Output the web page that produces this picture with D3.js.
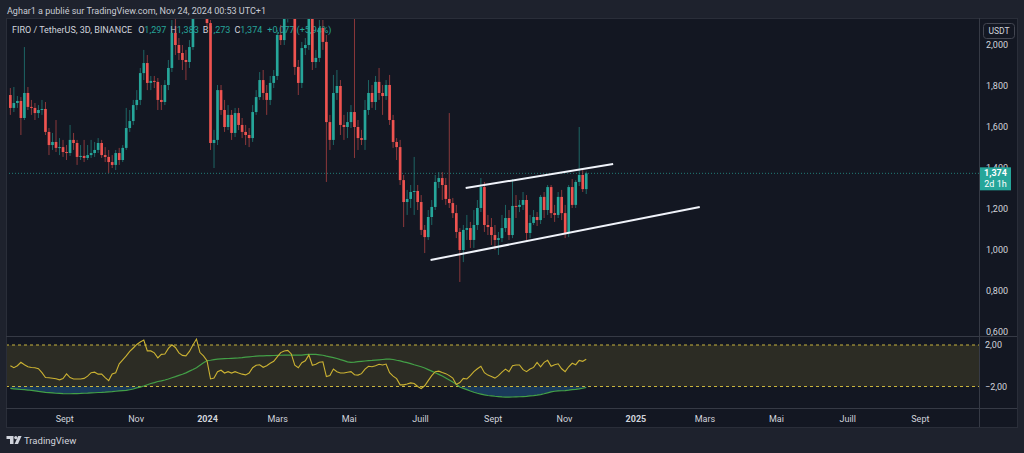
<!DOCTYPE html>
<html>
<head>
<meta charset="utf-8">
<script src="https://cdn.jsdelivr.net/npm/d3@7"></script>
<style>
  html, body { margin: 0; padding: 0; background: #1e222d; overflow: hidden; }
  svg { display: block; font-family: Roboto, "Noto Sans", sans-serif; }
</style>
</head>
<body>
<div id="chart"></div>
<script>
// FIRO / USDT, 3D candles, first bar date, then one bar every 3 days
const startDate = "2023-07-17";

// [open, high, low, close]
const candles = [
  [1.756,1.790,1.659,1.693],[1.693,1.795,1.673,1.717],[1.717,1.751,1.693,1.727],[1.727,1.746,1.561,1.644],[1.644,1.990,1.634,1.766],
  [1.766,1.795,1.683,1.698],[1.698,1.732,1.659,1.693],[1.693,1.717,1.634,1.668],[1.668,1.707,1.644,1.683],[1.683,1.732,1.659,1.688],
  [1.688,1.722,1.561,1.576],[1.576,1.595,1.463,1.512],[1.512,1.571,1.488,1.527],[1.527,1.634,1.478,1.498],[1.498,1.546,1.463,1.502],
  [1.502,1.537,1.454,1.478],[1.478,1.512,1.439,1.473],[1.473,1.610,1.459,1.537],[1.537,1.571,1.488,1.522],[1.522,1.537,1.415,1.454],
  [1.454,1.512,1.439,1.459],[1.459,1.537,1.429,1.449],[1.449,1.512,1.439,1.463],[1.463,1.537,1.449,1.473],[1.473,1.527,1.454,1.488],
  [1.488,1.546,1.473,1.522],[1.522,1.537,1.449,1.463],[1.463,1.502,1.429,1.454],[1.454,1.488,1.376,1.429],[1.429,1.463,1.400,1.415],
  [1.415,1.488,1.390,1.473],[1.473,1.498,1.415,1.439],[1.439,1.512,1.429,1.498],[1.498,1.693,1.488,1.595],[1.595,1.683,1.576,1.629],
  [1.629,1.732,1.610,1.707],[1.707,1.780,1.683,1.732],[1.732,1.888,1.707,1.863],[1.863,1.976,1.829,1.912],[1.912,1.951,1.780,1.815],
  [1.815,1.849,1.780,1.825],[1.825,1.849,1.790,1.820],[1.820,1.839,1.683,1.732],[1.732,1.805,1.683,1.722],[1.722,1.829,1.707,1.805],
  [1.805,1.927,1.780,1.888],[1.888,2.122,1.868,2.059],[2.059,2.146,1.951,2.000],[2.000,2.034,1.927,1.961],[1.961,2.000,1.878,1.927],
  [1.927,1.976,1.829,1.917],[1.917,2.024,1.888,1.990],[1.990,2.317,1.976,2.200],[2.200,2.450,2.160,2.350],[2.350,2.500,2.250,2.400],
  [2.400,2.450,2.180,2.250],[2.250,2.300,2.090,2.107],[2.107,2.122,1.488,1.522],[1.522,1.586,1.400,1.537],[1.537,1.805,1.512,1.780],
  [1.780,1.805,1.659,1.683],[1.683,1.732,1.576,1.600],[1.600,1.707,1.585,1.659],[1.659,1.683,1.537,1.571],[1.571,1.693,1.551,1.668],
  [1.668,1.693,1.585,1.610],[1.610,1.644,1.546,1.576],[1.576,1.610,1.512,1.561],[1.561,1.595,1.502,1.546],[1.546,1.707,1.527,1.673],
  [1.673,1.780,1.659,1.746],[1.746,1.868,1.732,1.829],[1.829,1.878,1.732,1.766],[1.766,1.805,1.659,1.732],[1.732,1.849,1.707,1.815],
  [1.815,1.878,1.790,1.849],[1.849,2.073,1.829,2.049],[2.049,2.098,2.000,2.024],[2.024,2.250,2.000,2.127],[2.127,2.350,2.110,2.268],
  [2.268,2.320,2.140,2.195],[2.195,2.244,1.854,1.893],[1.893,1.927,1.756,1.815],[1.815,2.015,1.790,1.985],[1.985,2.034,1.951,2.000],
  [2.000,2.290,1.976,2.171],[2.171,2.220,1.878,1.917],[1.917,1.976,1.888,1.937],[1.937,2.122,1.917,2.083],[2.083,2.122,1.976,2.015],
  [2.015,2.049,1.332,1.624],[1.624,1.659,1.488,1.537],[1.537,1.854,1.512,1.766],[1.766,1.878,1.732,1.800],[1.800,1.829,1.561,1.610],
  [1.610,1.659,1.537,1.600],[1.600,1.673,1.546,1.624],[1.624,1.707,1.595,1.673],[1.673,2.366,1.449,1.600],[1.600,1.634,1.488,1.546],
  [1.546,1.586,1.512,1.537],[1.537,1.732,1.488,1.683],[1.683,1.829,1.659,1.766],[1.766,1.805,1.693,1.722],[1.722,1.849,1.683,1.820],
  [1.820,1.888,1.732,1.766],[1.766,1.805,1.659,1.751],[1.751,1.829,1.732,1.805],[1.805,1.854,1.610,1.634],[1.634,1.659,1.498,1.527],
  [1.527,1.546,1.439,1.502],[1.502,1.537,1.317,1.341],[1.341,1.366,1.112,1.234],[1.234,1.293,1.171,1.249],[1.249,1.317,1.205,1.283],
  [1.283,1.454,1.171,1.288],[1.288,1.317,1.195,1.234],[1.234,1.268,1.073,1.098],[1.098,1.122,0.985,1.063],[1.063,1.195,1.049,1.161],
  [1.161,1.244,1.122,1.210],[1.210,1.366,1.195,1.332],[1.332,1.380,1.302,1.351],[1.351,1.380,1.244,1.317],[1.317,1.351,1.220,1.249],
  [1.249,1.668,1.205,1.229],[1.229,1.254,1.156,1.180],[1.180,1.220,1.058,1.088],[1.088,1.107,0.844,1.000],[1.000,1.122,0.941,1.098],
  [1.098,1.171,1.049,1.107],[1.107,1.137,1.010,1.049],[1.049,1.195,1.010,1.122],[1.122,1.244,1.098,1.205],[1.205,1.351,1.185,1.307],
  [1.307,1.332,1.088,1.122],[1.122,1.171,1.073,1.112],[1.112,1.156,1.024,1.073],[1.073,1.122,1.000,1.049],[1.049,1.088,0.976,1.058],
  [1.058,1.171,1.039,1.107],[1.107,1.220,1.088,1.156],[1.156,1.195,1.049,1.073],[1.073,1.346,1.058,1.215],[1.215,1.268,1.156,1.210],
  [1.210,1.244,1.185,1.220],[1.220,1.283,1.195,1.244],[1.244,1.268,1.049,1.083],[1.083,1.171,1.058,1.132],[1.132,1.195,1.122,1.161],
  [1.161,1.185,1.117,1.146],[1.146,1.268,1.127,1.259],[1.259,1.283,1.156,1.195],[1.195,1.317,1.171,1.307],[1.307,1.317,1.156,1.180],
  [1.180,1.220,1.137,1.171],[1.171,1.283,1.156,1.259],[1.259,1.293,1.146,1.180],[1.180,1.220,1.058,1.083],[1.083,1.317,1.063,1.307],
  [1.307,1.346,1.205,1.220],[1.220,1.341,1.205,1.332],[1.332,1.600,1.312,1.366],[1.366,1.390,1.283,1.297],[1.297,1.383,1.273,1.374]
];

// lower pane: oscillator (yellow) and its average (green), one value per bar
const oscillator = [
  0.00,-0.19,0.00,0.33,0.10,-0.10,-0.17,-0.19,-0.29,-0.67,
  -1.14,-1.16,-1.20,-1.26,-1.36,-1.24,-0.79,-1.14,-1.27,-1.27,
  -1.27,-1.22,-1.00,-0.67,-0.62,-0.81,-0.81,-1.14,-1.43,-0.79,
  -0.67,0.19,0.57,0.95,1.38,1.71,2.05,2.29,2.48,1.43,
  1.43,1.24,0.76,1.10,1.14,1.67,2.02,1.76,1.24,1.00,
  0.95,1.38,2.00,2.57,1.27,0.95,0.48,-1.27,-1.19,-0.57,
  -0.43,-0.70,-0.57,-0.71,-0.57,-0.70,-0.81,-0.88,-0.71,-0.19,
  0.05,0.10,-0.15,0.00,0.24,0.43,0.86,1.27,1.43,1.48,
  1.14,0.05,-0.19,0.29,0.48,1.05,0.05,0.14,0.33,0.38,
  -1.05,-0.95,-0.31,-0.57,-0.70,-0.70,-0.62,-0.57,-0.86,-0.90,
  -0.76,-0.33,-0.05,-0.10,0.00,0.14,0.07,0.16,-0.67,-1.00,
  -1.24,-1.84,-1.84,-1.76,-1.65,-1.71,-2.00,-2.19,-1.93,-1.43,
  -0.95,-0.57,-0.52,-0.65,-0.76,-0.95,-1.19,-1.81,-1.62,-1.22,
  -1.27,-0.95,-0.57,-0.29,-0.05,-0.67,-0.90,-1.03,-1.19,-0.95,
  -0.62,-0.33,-0.57,0.00,0.07,0.07,-0.38,-0.57,-0.31,-0.16,
  0.33,-0.10,0.33,0.52,-0.05,0.10,0.19,-0.29,-0.57,-0.10,
  0.24,0.10,0.52,0.43,0.62
];
const signal = [
  -2.19,-2.22,-2.25,-2.29,-2.31,-2.34,-2.38,-2.42,-2.47,-2.51,
  -2.56,-2.59,-2.62,-2.65,-2.67,-2.69,-2.70,-2.70,-2.69,-2.68,
  -2.67,-2.65,-2.64,-2.62,-2.60,-2.58,-2.57,-2.55,-2.52,-2.50,
  -2.46,-2.43,-2.40,-2.38,-2.31,-2.24,-2.14,-2.06,-1.95,-1.83,
  -1.71,-1.62,-1.52,-1.45,-1.37,-1.28,-1.16,-1.05,-0.93,-0.82,
  -0.69,-0.52,-0.36,-0.19,0.05,0.29,0.48,0.53,0.59,0.64,
  0.67,0.69,0.70,0.72,0.74,0.76,0.79,0.83,0.86,0.89,
  0.92,0.95,0.96,0.97,0.98,0.99,1.00,1.01,1.02,1.02,
  1.02,1.02,1.02,1.03,1.07,1.10,1.11,1.09,1.05,1.01,
  0.93,0.86,0.79,0.70,0.59,0.49,0.38,0.33,0.35,0.39,
  0.43,0.46,0.49,0.51,0.54,0.57,0.60,0.63,0.64,0.60,
  0.53,0.47,0.38,0.30,0.21,0.10,0.00,-0.10,-0.22,-0.37,
  -0.52,-0.68,-0.83,-0.99,-1.18,-1.37,-1.56,-1.79,-2.05,-2.18,
  -2.30,-2.43,-2.55,-2.65,-2.73,-2.81,-2.87,-2.90,-2.94,-2.97,
  -3.00,-3.02,-3.02,-3.01,-3.00,-2.99,-2.97,-2.95,-2.91,-2.88,
  -2.84,-2.78,-2.70,-2.61,-2.52,-2.46,-2.43,-2.41,-2.39,-2.35,
  -2.30,-2.27,-2.23,-2.17,-2.10
];

const priceTicks = [0.6, 0.8, 1.0, 1.2, 1.4, 1.6, 1.8, 2.0];
const oscTicks = [2, -2];
const timeTickDates = ["2023-09-01","2023-11-01","2024-01-01","2024-03-01","2024-05-01","2024-07-01",
                       "2024-09-01","2024-11-01","2025-01-01","2025-03-01","2025-05-01","2025-07-01","2025-09-01"];
const timeTickLabels = ["Sept","Nov","2024","Mars","Mai","Juill","Sept","Nov","2025","Mars","Mai","Juill","Sept"];

// hand drawn channel
const channelUpper = [["2024-08-09", 1.302], ["2024-12-13", 1.420]];
const channelLower = [["2024-07-10", 0.951], ["2025-02-25", 1.210]];

const W = 1024, H = 453;
const frameL = 6, frameR = 1017, frameT = 18, frameB = 427;
const axisX = 979, paneSplit = 336, timeTop = 408;
const up = "#26a69a", down = "#ef5350";

const fr = d3.formatLocale({ decimal: ",", thousands: "\u00a0", grouping: [3], currency: ["", ""] });
const fmtPrice = fr.format(".3f");
const fmtOsc = fr.format(".2f");

const t0 = new Date(startDate);
const bars = candles.map((c, i) => ({
  date: d3.utcDay.offset(t0, 3 * i),
  o: c[0], h: c[1], l: c[2], c: c[3],
  osc: oscillator[i], sig: signal[i]
}));

const x = d3.scaleUtc()
  .domain([new Date("2024-01-01"), new Date("2024-11-01")])
  .range([207, 564]);
const y = d3.scaleLinear().domain([0.6, 2.0]).range([332, 45]);
const yOsc = d3.scaleLinear().domain([-2, 2]).range([386.5, 345]);
const step = x(d3.utcDay.offset(t0, 3)) - x(t0);

const svg = d3.select("#chart").append("svg")
  .attr("width", W)
  .attr("height", H);

svg.append("rect").attr("width", W).attr("height", H).attr("fill", "#1e222d");
svg.append("rect")
  .attr("x", frameL + 0.5).attr("y", frameT + 0.5)
  .attr("width", frameR - frameL).attr("height", frameB - frameT)
  .attr("fill", "#131722").attr("stroke", "#2a2e39");

// separators
svg.append("line").attr("x1", axisX + 0.5).attr("x2", axisX + 0.5).attr("y1", frameT).attr("y2", frameB)
  .attr("stroke", "#363a45");
svg.append("line").attr("x1", frameL).attr("x2", frameR).attr("y1", paneSplit + 0.5).attr("y2", paneSplit + 0.5)
  .attr("stroke", "#363a45");
svg.append("line").attr("x1", frameL).attr("x2", frameR).attr("y1", timeTop + 0.5).attr("y2", timeTop + 0.5)
  .attr("stroke", "#363a45");

// header
svg.append("text")
  .attr("x", 7).attr("y", 14)
  .attr("fill", "#c9ccd4").style("font-size", "9px")
  .text("Aghar1 a publié sur TradingView.com, Nov 24, 2024 00:53 UTC+1");

const last = bars[bars.length - 1];
const legend = svg.append("text").attr("x", 12).attr("y", 33).style("font-size", "9px").attr("fill", "#d1d4dc");
legend.append("tspan").text("FIRO / TetherUS, 3D, BINANCE");
[["O", last.o], ["H", last.h], ["B", last.l], ["C", last.c]].forEach(([k, v], i) => {
  legend.append("tspan").attr("dx", i === 0 ? 6 : 4).text(k);
  legend.append("tspan").attr("fill", up).text(fmtPrice(v));
});
legend.append("tspan").attr("dx", 5).attr("fill", up)
  .text("+" + fmtPrice(last.c - last.o) + " (+" + fr.format(".2f")((last.c - last.o) / last.o * 100) + "%)");

// clip regions
const defs = svg.append("defs");
defs.append("clipPath").attr("id", "mainClip").append("rect")
  .attr("x", frameL + 1).attr("y", frameT + 1).attr("width", axisX - frameL - 1).attr("height", paneSplit - frameT - 1);
defs.append("clipPath").attr("id", "oscClip").append("rect")
  .attr("x", frameL + 1).attr("y", paneSplit + 1).attr("width", axisX - frameL - 1).attr("height", timeTop - paneSplit - 1);

// main pane
const main = svg.append("g").attr("clip-path", "url(#mainClip)");

main.append("line")
  .attr("x1", frameL).attr("x2", axisX)
  .attr("y1", y(last.c)).attr("y2", y(last.c))
  .attr("stroke", up).attr("stroke-opacity", 0.7)
  .attr("stroke-dasharray", "1,2");

const candle = main.selectAll(".candle")
  .data(bars)
  .enter().append("g")
  .attr("class", "candle");

candle.append("line")
  .attr("x1", d => x(d.date)).attr("x2", d => x(d.date))
  .attr("y1", d => y(d.h)).attr("y2", d => y(d.l))
  .attr("stroke", d => d.c >= d.o ? up : down)
  .attr("stroke-opacity", 0.55)
  .attr("stroke-width", 1);

candle.append("rect")
  .attr("x", d => x(d.date) - step * 0.38)
  .attr("width", step * 0.76)
  .attr("y", d => y(Math.max(d.o, d.c)))
  .attr("height", d => Math.max(1, Math.abs(y(d.o) - y(d.c))))
  .attr("fill", d => d.c >= d.o ? up : down);

const channel = d3.line()
  .x(d => x(new Date(d[0])))
  .y(d => y(d[1]));
[channelUpper, channelLower].forEach(pts => {
  main.append("path")
    .attr("d", channel(pts))
    .attr("fill", "none")
    .attr("stroke", "#f0f3fa")
    .attr("stroke-width", 2);
});

// price axis
const yAxis = svg.append("g")
  .attr("transform", `translate(${axisX},0)`)
  .call(d3.axisRight(y).tickValues(priceTicks).tickSize(0).tickPadding(7).tickFormat(fmtPrice));
yAxis.select(".domain").remove();
yAxis.attr("font-family", null).attr("font-size", null);
yAxis.selectAll("text").attr("fill", "#d1d4dc").style("font-size", "9px");

// unit button
svg.append("rect")
  .attr("x", 983.5).attr("y", 23.5).attr("width", 31).attr("height", 15).attr("rx", 3)
  .attr("fill", "#131722").attr("stroke", "#434651");
svg.append("text")
  .attr("x", 999).attr("y", 34).attr("text-anchor", "middle")
  .attr("fill", "#d1d4dc").style("font-size", "8.5px").text("USDT");

// last price tag
svg.append("rect")
  .attr("x", axisX + 1).attr("y", y(last.c) - 6)
  .attr("width", 31).attr("height", 23)
  .attr("fill", up);
svg.append("text")
  .attr("x", axisX + 16.5).attr("y", y(last.c) + 3).attr("text-anchor", "middle")
  .attr("fill", "#ffffff").style("font-size", "9px").style("font-weight", "bold")
  .text(fmtPrice(last.c));
svg.append("text")
  .attr("x", axisX + 16.5).attr("y", y(last.c) + 13.5).attr("text-anchor", "middle")
  .attr("fill", "#ffffff").style("font-size", "9px")
  .text("2d 1h");

// oscillator pane
const osc = svg.append("g").attr("clip-path", "url(#oscClip)");

osc.append("rect")
  .attr("x", frameL).attr("width", axisX - frameL)
  .attr("y", yOsc(2)).attr("height", yOsc(-2) - yOsc(2))
  .attr("fill", "#2c2c24");

osc.append("path")
  .datum(bars)
  .attr("d", d3.area()
    .x(d => x(d.date))
    .y0(yOsc(-2))
    .y1(d => yOsc(Math.min(d.sig, -2))))
  .attr("fill", "#1a3a5a");

oscTicks.forEach(v => {
  osc.append("line")
    .attr("x1", frameL).attr("x2", axisX)
    .attr("y1", yOsc(v)).attr("y2", yOsc(v))
    .attr("stroke", "#c9b43c")
    .attr("stroke-dasharray", "3,3");
});

osc.append("path")
  .datum(bars)
  .attr("d", d3.line().x(d => x(d.date)).y(d => yOsc(d.sig)))
  .attr("fill", "none").attr("stroke", "#43a047").attr("stroke-width", 1.2);

osc.append("path")
  .datum(bars)
  .attr("d", d3.line().x(d => x(d.date)).y(d => yOsc(d.osc)))
  .attr("fill", "none").attr("stroke", "#cbb232").attr("stroke-width", 1.1);

const oscAxis = svg.append("g")
  .attr("transform", `translate(${axisX},0)`)
  .call(d3.axisRight(yOsc).tickValues(oscTicks).tickSize(0).tickPadding(6).tickFormat(fmtOsc));
oscAxis.select(".domain").remove();
oscAxis.attr("font-family", null).attr("font-size", null);
oscAxis.selectAll("text").attr("fill", "#d1d4dc").style("font-size", "9px");

// time axis
const xAxis = svg.append("g")
  .attr("transform", `translate(0,${timeTop})`)
  .call(d3.axisBottom(x)
    .tickValues(timeTickDates.map(d => new Date(d)))
    .tickSize(0).tickPadding(8)
    .tickFormat((d, i) => timeTickLabels[i]));
xAxis.select(".domain").remove();
xAxis.attr("font-family", null).attr("font-size", null);
xAxis.selectAll("text")
  .attr("fill", "#d1d4dc").style("font-size", "9px")
  .style("font-weight", (d, i) => /^\d{4}$/.test(timeTickLabels[i]) ? "bold" : "normal");

// footer logo
const logo = svg.append("g").attr("fill", "#d1d4dc");
logo.append("path").attr("d", "M6.5,436 h7 v8 h-3.5 v-5 h-3.5 z");
logo.append("circle").attr("cx", 15.8).attr("cy", 437.6).attr("r", 1.6);
logo.append("path").attr("d", "M18.2,436 h3.4 l-3.6,8 h-3.4 z");
svg.append("text")
  .attr("x", 24).attr("y", 443.5)
  .attr("fill", "#d1d4dc").style("font-size", "9.5px")
  .text("TradingView");
</script>
</body>
</html>
